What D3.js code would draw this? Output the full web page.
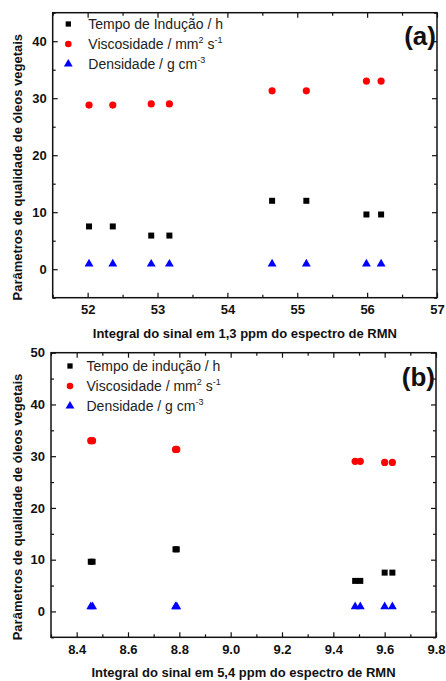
<!DOCTYPE html>
<html>
<head>
<meta charset="utf-8">
<script src="https://cdn.jsdelivr.net/npm/d3@7"></script>
<style>
  body { margin: 0; background: #fff; }
  svg { display: block; }
  text { font-family: "Liberation Sans", Arial, sans-serif; }
</style>
</head>
<body>
<div id="chart-area"></div>
<script>
// data (same 8 oils in both panels)
var xA = [52.02, 52.36, 52.91, 53.17, 54.64, 55.13, 55.99, 56.20];   // integral 1,3 ppm
var xB = [9.60, 9.63, 9.485, 9.505, 8.79, 8.785, 8.455, 8.462];       // integral 5,4 ppm
var inducao = [7.5, 7.5, 5.9, 5.9, 12.0, 12.0, 9.6, 9.6];
var viscosidade = [28.8, 28.8, 29.0, 29.0, 31.3, 31.3, 33.0, 33.0];
var densidade = [0.92, 0.92, 0.91, 0.91, 0.92, 0.92, 0.92, 0.92];

var xTicksA = [52, 53, 54, 55, 56, 57];
var xTicksB = [8.4, 8.6, 8.8, 9.0, 9.2, 9.4, 9.6, 9.8];
var yTicksA = [0, 10, 20, 30, 40];
var yTicksB = [0, 10, 20, 30, 40, 50];

var W = 446, H = 681;
var svg = d3.select("#chart-area").append("svg")
    .attr("width", W)
    .attr("height", H);

function drawPanel(p) {
  var g = svg.append("g").attr("transform", "translate(" + p.left + "," + p.top + ")");
  var x = d3.scaleLinear().domain(p.xDomain).range([0, p.width]);
  var y = d3.scaleLinear().domain(p.yDomain).range([p.height, 0]);

  // minor ticks
  var xMinor = d3.range(p.xDomain[0], p.xDomain[1] + 1e-9, p.xMinorStep).filter(function(v) {
    return p.xTicks.every(function(t) { return Math.abs(t - v) > 1e-6; });
  });
  var yMinor = d3.range(p.yDomain[0], p.yDomain[1] + 1e-9, 5).filter(function(v) {
    return p.yTicks.indexOf(v) < 0;
  });

  function axisGroup(axis, tr) {
    var a = g.append("g").attr("transform", tr).call(axis);
    a.select(".domain").remove();
    a.selectAll("line").attr("stroke", "#111").attr("stroke-width", 1.2);
    a.selectAll("text").attr("font-size", "13px").attr("font-weight", "bold")
      .attr("fill", "#111").attr("font-family", "Liberation Sans, Arial, sans-serif");
    return a;
  }

  axisGroup(d3.axisBottom(x).tickValues(p.xTicks).tickSize(-5).tickPadding(7)
      .tickFormat(p.xFormat), "translate(0," + p.height + ")");
  axisGroup(d3.axisBottom(x).tickValues(xMinor).tickSize(-3).tickFormat(""), "translate(0," + p.height + ")");
  axisGroup(d3.axisTop(x).tickValues(p.xTicks).tickSize(-5).tickFormat(""), "translate(0,0)");
  axisGroup(d3.axisTop(x).tickValues(xMinor).tickSize(-3).tickFormat(""), "translate(0,0)");
  axisGroup(d3.axisLeft(y).tickValues(p.yTicks).tickSize(-5).tickPadding(6)
      .tickFormat(d3.format("d")), "translate(0,0)");
  axisGroup(d3.axisLeft(y).tickValues(yMinor).tickSize(-3).tickFormat(""), "translate(0,0)");
  axisGroup(d3.axisRight(y).tickValues(p.yTicks).tickSize(-5).tickFormat(""), "translate(" + p.width + ",0)");
  axisGroup(d3.axisRight(y).tickValues(yMinor).tickSize(-3).tickFormat(""), "translate(" + p.width + ",0)");

  g.append("rect")
    .attr("width", p.width)
    .attr("height", p.height)
    .attr("fill", "none")
    .attr("stroke", "#111")
    .attr("stroke-width", 1.5);

  // points
  var sq = d3.symbol().type(d3.symbolSquare).size(36);
  var tri = d3.symbol().type(d3.symbolTriangle).size(34);
  g.selectAll(".dens").data(p.xs).enter().append("path")
    .attr("d", tri)
    .attr("transform", function(d, i) { return "translate(" + x(d) + "," + y(densidade[i]) + ")"; })
    .attr("fill", "#0000ff");
  g.selectAll(".visc").data(p.xs).enter().append("circle")
    .attr("cx", function(d) { return x(d); })
    .attr("cy", function(d, i) { return y(viscosidade[i]); })
    .attr("r", 3.6)
    .attr("fill", "#ff0000");
  g.selectAll(".ind").data(p.xs).enter().append("path")
    .attr("d", sq)
    .attr("transform", function(d, i) { return "translate(" + x(d) + "," + y(inducao[i]) + ")"; })
    .attr("fill", "#000");

  // legend
  var lx = p.legX, ly = p.legY, dy = 20;
  g.append("path").attr("d", d3.symbol().type(d3.symbolSquare).size(28))
    .attr("transform", "translate(" + lx + "," + ly + ")").attr("fill", "#000");
  g.append("circle").attr("cx", lx).attr("cy", ly + dy).attr("r", 3.3).attr("fill", "#ff0000");
  g.append("path").attr("d", d3.symbol().type(d3.symbolTriangle).size(34))
    .attr("transform", "translate(" + lx + "," + (ly + 2 * dy) + ")").attr("fill", "#0000ff");

  var tx = lx + p.legGap;
  g.append("text").attr("x", tx).attr("y", ly + 5).attr("font-size", "14px").attr("fill", "#222")
    .text(p.legInd);
  var t2 = g.append("text").attr("x", tx).attr("y", ly + dy + 5).attr("font-size", "14px").attr("fill", "#222");
  t2.append("tspan").text("Viscosidade / mm");
  t2.append("tspan").attr("font-size", "9px").attr("dy", -6).text("2");
  t2.append("tspan").attr("dy", 6).text(" s");
  t2.append("tspan").attr("font-size", "9px").attr("dy", -6).text("-1");
  var t3 = g.append("text").attr("x", tx).attr("y", ly + 2 * dy + 5).attr("font-size", "14px").attr("fill", "#222");
  t3.append("tspan").text("Densidade / g cm");
  t3.append("tspan").attr("font-size", "9px").attr("dy", -6).text("-3");

  // panel letter
  g.append("text").attr("x", p.width - 1).attr("y", p.letterY)
    .attr("text-anchor", "end").attr("font-size", "26px").attr("font-weight", "bold")
    .attr("fill", "#111").text(p.letter);

  // axis titles
  g.append("text").attr("x", p.width / 2).attr("y", p.height + p.xTitleDy)
    .attr("text-anchor", "middle").attr("font-size", "13px").attr("font-weight", "bold")
    .attr("fill", "#111").text(p.xTitle);
  g.append("text")
    .attr("transform", "translate(" + (21.5 - p.left) + "," + (p.height / 2 + 12) + ") rotate(-90)")
    .attr("text-anchor", "middle").attr("font-size", "13px").attr("font-weight", "bold")
    .attr("fill", "#111").text("Parâmetros de qualidade de óleos vegetais");
}

drawPanel({
  left: 52.7, top: 12.7, width: 384.3, height: 285,
  xDomain: [51.5, 57], yDomain: [-5, 45],
  xTicks: xTicksA, yTicks: yTicksA, xMinorStep: 0.5,
  xFormat: d3.format("d"), xs: xA,
  legX: 15.6, legY: 11.3, legGap: 20,
  legInd: "Tempo de Indução / h",
  letter: "(a)", letterY: 32,
  xTitle: "Integral do sinal em 1,3 ppm do espectro de RMN", xTitleDy: 40
});

drawPanel({
  left: 51, top: 352.7, width: 385, height: 284.6,
  xDomain: [8.3, 9.8], yDomain: [-5, 50],
  xTicks: xTicksB, yTicks: yTicksB, xMinorStep: 0.1,
  xFormat: d3.format(".1f"), xs: xB,
  legX: 19, legY: 13.3, legGap: 16.5,
  legInd: "Tempo de indução / h",
  letter: "(b)", letterY: 33,
  xTitle: "Integral do sinal em 5,4 ppm do espectro de RMN", xTitleDy: 40
});
</script>
</body>
</html>
